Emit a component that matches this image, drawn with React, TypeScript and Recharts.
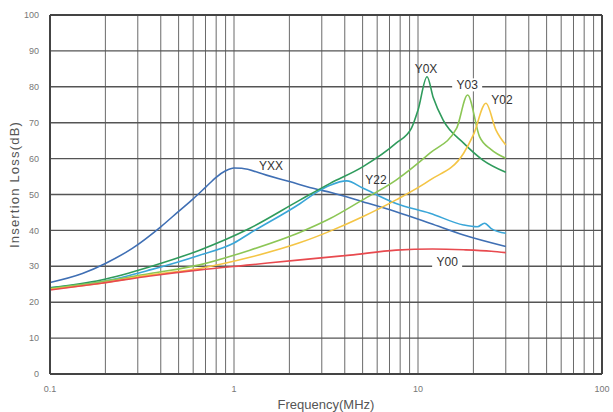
import React from "react";
import {
  CartesianGrid,
  Line,
  LineChart,
  ReferenceDot,
  ReferenceLine,
  XAxis,
  YAxis,
  Label
} from "recharts";

document.body.style.margin = "0";

const FONT = "'Liberation Sans', Arial, sans-serif";

// frequency grid (MHz), log decades 0.1 .. 100
const gridFreqs = [
  0.1, 0.2, 0.3, 0.4, 0.5, 0.6, 0.7, 0.8, 0.9,
  1, 2, 3, 4, 5, 6, 7, 8, 9,
  10, 20, 30, 40, 50, 60, 70, 80, 90, 100
];
const decadeLabels = ["0.1", "1", "10", "100"];
const lossTicks = [0, 10, 20, 30, 40, 50, 60, 70, 80, 90, 100];

const yxxFreq = [0.1, 0.15, 0.2, 0.28, 0.4, 0.5, 0.6, 0.7, 0.8, 0.9, 1.0, 1.1, 1.5, 2, 2.85, 3.33, 5, 7.6, 11.6, 17.7, 30];
const yxxLoss = [25.5, 28, 30.8, 35, 41, 45.3, 48.8, 52, 54.8, 56.6, 57.4, 57.3, 55.4, 53.6, 51.4, 50.6, 48, 45.2, 42, 38.7, 35.5];

const y22Freq = [0.1, 0.19, 0.35, 0.65, 1.0, 1.22, 2.29, 2.85, 3.33, 4.1, 5, 7.6, 11.6, 17.7, 21, 23, 25, 30];
const y22Loss = [24, 25.7, 29, 33.1, 36.5, 39.2, 47.5, 50.8, 52.6, 53.8, 51.8, 47.5, 44.8, 41.5, 41, 42, 40.5, 39.2];

const y0xFreq = [0.1, 0.19, 0.35, 0.65, 1.22, 2.29, 3.33, 5, 7.6, 9.2, 10, 11.2, 12.1, 13.7, 17.7, 22.5, 30];
const y0xLoss = [24, 26.2, 29.9, 34.5, 40.6, 48.5, 53.1, 57.7, 64.3, 68.4, 73.5, 82.8, 77, 70.7, 64.3, 59.6, 56.2];

const y03Freq = [0.1, 0.19, 0.35, 0.65, 1.22, 2.29, 3.33, 5, 7.6, 11.6, 16.2, 18.6, 21.6, 25, 30];
const y03Loss = [23.8, 25.7, 28, 30.4, 34.5, 39.5, 43.3, 48.5, 54, 61.5, 68.4, 77.7, 66.1, 62.5, 60.1];

const y02Freq = [0.1, 0.19, 0.35, 0.65, 1.22, 2.29, 3.33, 5, 7.6, 11.6, 17.7, 20, 23.4, 26.5, 30];
const y02Loss = [23.6, 25.3, 27.6, 29.4, 32.5, 36.6, 39.8, 43.8, 48.5, 54, 61.5, 66.6, 75.4, 68, 63.8];

const y00Freq = [0.1, 0.19, 0.35, 0.65, 1.22, 2.29, 4.27, 7.6, 12, 17.7, 25, 30];
const y00Loss = [23.4, 25.3, 27.3, 29, 30.4, 31.8, 33.1, 34.5, 34.8, 34.6, 34.2, 33.8];

const seriesNames = ["YXX", "Y22", "Y0X", "Y03", "Y02", "Y00"];
const seriesFreqs = [yxxFreq, y22Freq, y0xFreq, y03Freq, y02Freq, y00Freq];
const seriesLoss = [yxxLoss, y22Loss, y0xLoss, y03Loss, y02Loss, y00Loss];
const seriesColors = ["#3f6fb4", "#3aa6d8", "#2f9b5c", "#8cc655", "#f4c545", "#e84a4f"];

// where each curve name sits (freq MHz, loss dB) and whether it masks the grid
const labelFreq = [1.59, 5.91, 11.05, 18.5, 28.6, 14.4];
const labelLoss = [57.9, 54, 85, 80.4, 76.3, 31.2];
const labelMask = [false, false, false, true, false, true];

const toPoints = (freq: number[], loss: number[]) =>
  freq.map((f, i) => ({ f, v: loss[i] }));

function NameTag({ viewBox, text, mask }: any) {
  const cx = viewBox.x + (viewBox.width ?? 0) / 2;
  const cy = viewBox.y + (viewBox.height ?? 0) / 2;
  return (
    <g>
      {mask && <rect x={cx - 15} y={cy - 7} width={30} height={13} fill="#fff" />}
      <text
        x={cx}
        y={cy}
        textAnchor="middle"
        dominantBaseline="central"
        fontSize={12}
        fontFamily={FONT}
        fill="#333"
      >
        {text}
      </text>
    </g>
  );
}

export default function App() {
  return (
    <div style={{ width: 613, height: 412, background: "#fff" }}>
      <LineChart width={613} height={412} margin={{ top: 15, right: 11, bottom: 0, left: 0 }}>
        <CartesianGrid stroke="#6a6a6a" strokeWidth={1} horizontal={false} />
        <CartesianGrid stroke="#555" strokeWidth={1.4} vertical={false} />
        <XAxis
          dataKey="f"
          type="number"
          scale="log"
          domain={[0.1, 100]}
          ticks={gridFreqs}
          allowDataOverflow
          height={38}
          tickLine={false}
          axisLine={{ stroke: "#444", strokeWidth: 2 }}
          tickMargin={6}
          interval={0}
          tick={{ fontSize: 9, fill: "#777", fontFamily: FONT }}
          tickFormatter={(v: number) => {
            const s = String(v);
            return decadeLabels.includes(s) ? s : "";
          }}
        >
          <Label
            value="Frequency(MHz)"
            position="insideBottom"
            offset={3}
            style={{ fontSize: 13, fill: "#555", fontFamily: FONT }}
          />
        </XAxis>
        <YAxis
          type="number"
          domain={[0, 100]}
          ticks={lossTicks}
          width={50}
          interval={0}
          tickLine={false}
          axisLine={{ stroke: "#444", strokeWidth: 2 }}
          tickMargin={5}
          tick={{ fontSize: 9, fill: "#777", fontFamily: FONT }}
        >
          <Label
            value="Insertion Loss(dB)"
            angle={-90}
            position="insideLeft"
            offset={14}
            dy={-10}
            style={{ fontSize: 13, fill: "#555", fontFamily: FONT, letterSpacing: 1.2, textAnchor: "middle" }}
          />
        </YAxis>
        <ReferenceLine y={100} stroke="#444" strokeWidth={2} />
        <ReferenceLine x={100} stroke="#444" strokeWidth={2} />
        {seriesNames.map((name, i) => (
          <Line
            key={name}
            data={toPoints(seriesFreqs[i], seriesLoss[i])}
            dataKey="v"
            type="monotone"
            stroke={seriesColors[i]}
            strokeWidth={1.6}
            dot={false}
            isAnimationActive={false}
          />
        ))}
        {seriesNames.map((name, i) => (
          <ReferenceDot
            key={`tag-${name}`}
            x={labelFreq[i]}
            y={labelLoss[i]}
            r={0}
            stroke="none"
            fill="none"
            label={(p: any) => <NameTag {...p} text={name} mask={labelMask[i]} />}
          />
        ))}
      </LineChart>
    </div>
  );
}
